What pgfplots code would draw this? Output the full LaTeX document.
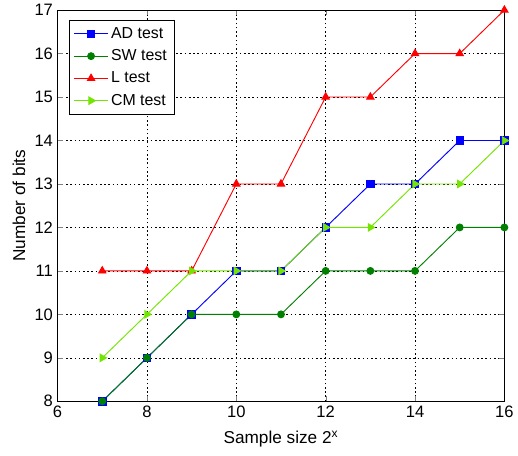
\documentclass[border=0pt]{standalone}
\usepackage{fontspec}
\setmainfont{Liberation Sans}
\usepackage{pgfplots}
\pgfplotsset{compat=1.18}
\definecolor{cmgreen}{rgb}{0.45,0.9,0.0}
\definecolor{swgreen}{rgb}{0,0.5,0}
\begin{document}
\begin{tikzpicture}
\begin{axis}[
  name=ax,
  scale only axis,
  width=337.5pt, height=295.5pt,
  xmin=6, xmax=16, ymin=8, ymax=17,
  xtick={6,8,...,16}, ytick={8,...,17},
  /pgf/number format/assume math mode=true,
  tick label style={font=\fontsize{12.5}{14}\selectfont},
  label style={font=\fontsize{13}{15}\selectfont},
  xlabel={Sample size 2\textsuperscript{x}},
  ylabel={Number of bits},
  xlabel style={yshift=-3pt},
  ylabel style={yshift=0pt},
  grid=major,
  major grid style={black, dash pattern=on 1.2pt off 2pt, line width=0.4pt},
  axis line style={black, line width=0.5pt},
  tick align=inside,
  major tick length=4pt,
  legend style={at={(0.025,0.975)}, anchor=north west, draw=black, font=\fontsize{12}{14}\selectfont, row sep=3pt, inner sep=3.5pt},
  legend cell align=left,
  legend image code/.code={\draw[mark repeat=2,mark phase=2] plot coordinates {(0cm,0cm)(0.45cm,0cm)(0.9cm,0cm)};},
  every axis plot/.append style={line width=0.7pt},
]
\addplot[blue, mark=square*, mark size=2.8pt, mark options={fill=blue}] coordinates {(7,8)(8,9)(9,10)(10,11)(11,11)(12,12)(13,13)(14,13)(15,14)(16,14)};
\addlegendentry{AD test}
\addplot[swgreen, mark=*, mark size=2.6pt, mark options={fill=swgreen}] coordinates {(7,8)(8,9)(9,10)(10,10)(11,10)(12,11)(13,11)(14,11)(15,12)(16,12)};
\addlegendentry{SW test}
\addplot[red, mark=triangle*, mark size=3.2pt, mark options={fill=red}] coordinates {(7,11)(8,11)(9,11)(10,13)(11,13)(12,15)(13,15)(14,16)(15,16)(16,17)};
\addlegendentry{L test}
\addplot[cmgreen, mark=triangle*, mark size=3.2pt, mark options={fill=cmgreen, rotate=-90}] coordinates {(7,9)(8,10)(9,11)(10,11)(11,11)(12,12)(13,12)(14,13)(15,13)(16,14)};
\addlegendentry{CM test}
\end{axis}
\path[use as bounding box] ([shift={(-43.5pt,-41.25pt)}]ax.south west) rectangle ([shift={(7.5pt,6pt)}]ax.north east);
\end{tikzpicture}
\end{document}
